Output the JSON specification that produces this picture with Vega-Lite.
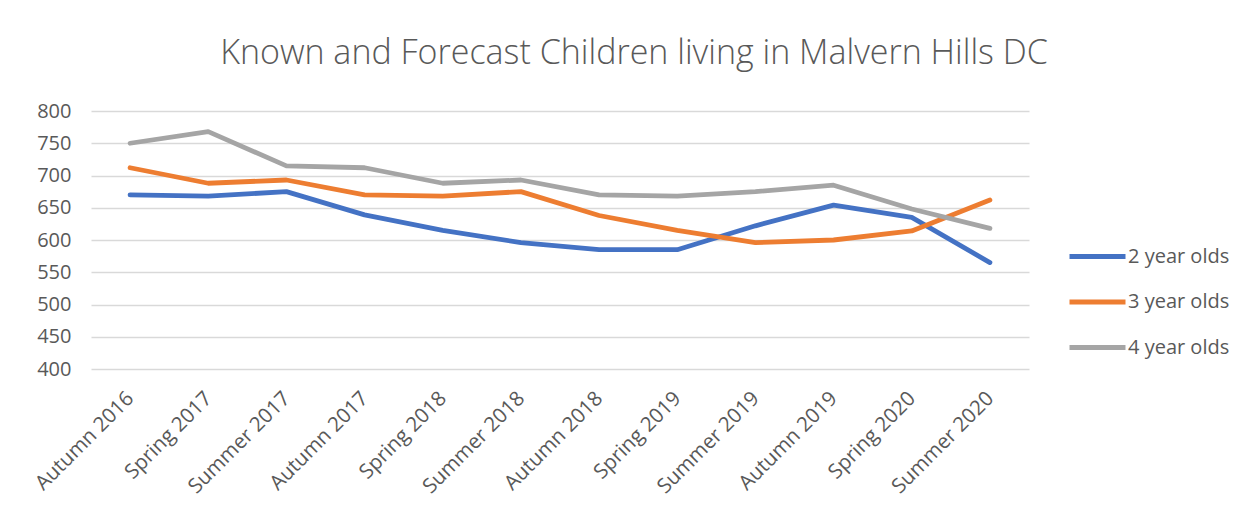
{
  "$schema": "https://vega.github.io/schema/vega-lite/v6.json",
  "autosize": "none",
  "width": 938,
  "height": 258,
  "padding": {"left": 91, "top": 111, "right": 218, "bottom": 143},
  "background": "white",
  "title": {
    "text": "Known and Forecast Children living in Malvern Hills DC",
    "fontSize": 34,
    "font": "Open Sans",
    "fontWeight": 300,
    "color": "#595959",
    "anchor": "middle",
    "baseline": "alphabetic",
    "offset": 3,
    "dx": 74
  },
  "config": {
    "view": {"stroke": null},
    "font": "Open Sans"
  },
  "data": {
    "values": [
      {"season": "Autumn 2016", "series": "2 year olds", "value": 670},
      {"season": "Spring 2017", "series": "2 year olds", "value": 668},
      {"season": "Summer 2017", "series": "2 year olds", "value": 675},
      {"season": "Autumn 2017", "series": "2 year olds", "value": 639},
      {"season": "Spring 2018", "series": "2 year olds", "value": 615},
      {"season": "Summer 2018", "series": "2 year olds", "value": 596},
      {"season": "Autumn 2018", "series": "2 year olds", "value": 585},
      {"season": "Spring 2019", "series": "2 year olds", "value": 585},
      {"season": "Summer 2019", "series": "2 year olds", "value": 622},
      {"season": "Autumn 2019", "series": "2 year olds", "value": 654},
      {"season": "Spring 2020", "series": "2 year olds", "value": 635},
      {"season": "Summer 2020", "series": "2 year olds", "value": 565},
      {"season": "Autumn 2016", "series": "3 year olds", "value": 712},
      {"season": "Spring 2017", "series": "3 year olds", "value": 688},
      {"season": "Summer 2017", "series": "3 year olds", "value": 693},
      {"season": "Autumn 2017", "series": "3 year olds", "value": 670},
      {"season": "Spring 2018", "series": "3 year olds", "value": 668},
      {"season": "Summer 2018", "series": "3 year olds", "value": 675},
      {"season": "Autumn 2018", "series": "3 year olds", "value": 638},
      {"season": "Spring 2019", "series": "3 year olds", "value": 615},
      {"season": "Summer 2019", "series": "3 year olds", "value": 596},
      {"season": "Autumn 2019", "series": "3 year olds", "value": 600},
      {"season": "Spring 2020", "series": "3 year olds", "value": 614},
      {"season": "Summer 2020", "series": "3 year olds", "value": 662},
      {"season": "Autumn 2016", "series": "4 year olds", "value": 750},
      {"season": "Spring 2017", "series": "4 year olds", "value": 768},
      {"season": "Summer 2017", "series": "4 year olds", "value": 715},
      {"season": "Autumn 2017", "series": "4 year olds", "value": 712},
      {"season": "Spring 2018", "series": "4 year olds", "value": 688},
      {"season": "Summer 2018", "series": "4 year olds", "value": 693},
      {"season": "Autumn 2018", "series": "4 year olds", "value": 670},
      {"season": "Spring 2019", "series": "4 year olds", "value": 668},
      {"season": "Summer 2019", "series": "4 year olds", "value": 675},
      {"season": "Autumn 2019", "series": "4 year olds", "value": 685},
      {"season": "Spring 2020", "series": "4 year olds", "value": 648},
      {"season": "Summer 2020", "series": "4 year olds", "value": 618}
    ]
  },
  "mark": {"type": "line", "strokeWidth": 4.8, "strokeCap": "round", "strokeJoin": "round"},
  "encoding": {
    "x": {
      "field": "season",
      "type": "nominal",
      "sort": null,
      "scale": {"type": "point", "padding": 0.5},
      "axis": {
        "title": null,
        "labelAngle": -45,
        "labelAlign": "right",
        "labelBaseline": "top",
        "labelFontSize": 20.5,
        "labelColor": "#595959",
        "labelFont": "Open Sans",
        "labelPadding": 19,
        "labelOffset": -7,
        "ticks": false,
        "domain": false,
        "grid": false
      }
    },
    "y": {
      "field": "value",
      "type": "quantitative",
      "scale": {"domain": [400, 800], "nice": false, "zero": false},
      "axis": {
        "title": null,
        "values": [400, 450, 500, 550, 600, 650, 700, 750, 800],
        "labelFontSize": 20,
        "labelColor": "#595959",
        "labelFont": "Open Sans",
        "labelPadding": 20,
        "ticks": false,
        "domain": false,
        "grid": true,
        "gridColor": "#D9D9D9",
        "gridWidth": 1.3
      }
    },
    "color": {
      "field": "series",
      "type": "nominal",
      "scale": {
        "domain": ["2 year olds", "3 year olds", "4 year olds"],
        "range": ["#4472C4", "#ED7D31", "#A5A5A5"]
      },
      "legend": {
        "title": null,
        "orient": "none",
        "legendX": 976,
        "legendY": 115,
        "symbolType": "stroke",
        "symbolSize": 3136,
        "symbolStrokeWidth": 4.8,
        "labelFontSize": 20,
        "labelColor": "#595959",
        "labelFont": "Open Sans",
        "labelOffset": 0,
        "rowPadding": 4.5,
        "labelLimit": 200
      }
    }
  }
}
